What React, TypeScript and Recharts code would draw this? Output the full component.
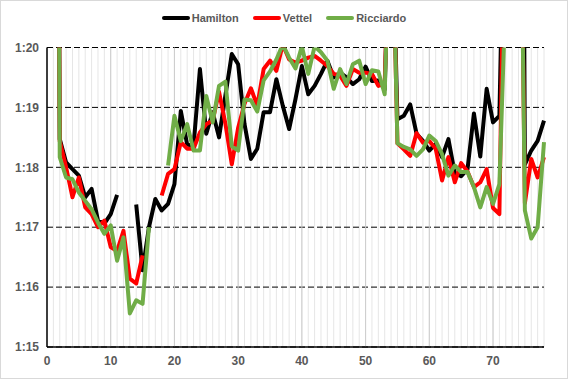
import { CartesianGrid, Legend, Line, LineChart, ReferenceLine, XAxis, YAxis } from "recharts";

const FONT = '"Liberation Sans", Arial, sans-serif';

// lap numbers (x categories)
const laps = [
	1, 2, 3, 4, 5, 6, 7, 8, 9, 10, 11, 12, 13, 14, 15, 16, 17, 18, 19, 20,
	21, 22, 23, 24, 25, 26, 27, 28, 29, 30, 31, 32, 33, 34, 35, 36, 37, 38, 39, 40,
	41, 42, 43, 44, 45, 46, 47, 48, 49, 50, 51, 52, 53, 54, 55, 56, 57, 58, 59, 60,
	61, 62, 63, 64, 65, 66, 67, 68, 69, 70, 71, 72, 73, 74, 75, 76, 77, 78,
];

// lap times in seconds (1:20 = 80)
const hamilton = [
	100, 78.47, 78.08, 77.97, 77.86, 77.5, 77.64, 77.11, 77.06, 77.22,
	77.54, null, null, 77.38, 76.28, 77.0, 77.47, 77.28, 77.39, 77.72,
	78.94, 78.38, 78.36, 79.64, 78.56, 78.92, 78.5, 79.2, 79.89, 79.72,
	78.72, 78.14, 78.31, 78.92, 78.92, 79.47, 79.03, 78.64, 79.14, 79.69,
	79.22, 79.36, 79.56, 79.78, 79.5, 79.58, 79.5, 79.39, 79.47, 79.68,
	79.44, 79.45, 79.3, 83, 78.8, 78.86, 79.05, 78.56, 78.44, 78.28,
	78.39, 78.17, 78.47, 77.9, 77.85, 77.97, 78.9, 78.18, 79.31, 78.75,
	78.86, 84, 100, 100, 78.05, 78.28, 78.44, 78.78,
];

const vettel = [
	100, 78.44, 78.0, 77.5, 77.83, 77.33, 77.22, 77.0, 77.11, 76.67,
	76.6, 76.94, 76.14, 76.06, 76.53, null, null, 77.53, 77.89, 77.97,
	78.42, 78.31, 78.31, 78.58, 78.72, 78.78, 79.26, 78.73, 78.05, 78.66,
	79.06, 79.32, 79.03, 79.64, 79.78, 79.61, 80.05, 79.8, 79.75, 79.78,
	79.83, 79.86, 79.78, 79.69, 79.56, 79.53, 79.36, 79.64, 79.58, 79.58,
	79.56, 79.36, 79.4, 83, 78.4, 78.3, 78.19, 78.57, 78.41, 78.44,
	78.31, 77.78, 78.17, 77.75, 78.07, 77.93, 77.67, 77.75, 77.97, 77.32,
	77.22, 84, 100, 86, 77.4, 78.14, 77.83, 78.17,
];

const ricciardo = [
	100, 78.17, 77.83, 77.8, 77.58, 77.44, 77.3, 77.08, 76.89, 77.03,
	76.44, 76.83, 75.56, 75.78, 75.72, 77.0, null, null, 78.03, 78.86,
	78.44, 78.72, 78.28, 78.28, 79.19, 78.75, 79.36, 79.43, 78.35, 78.28,
	79.13, 79.12, 78.93, 79.45, 79.6, 79.8, 80.05, 79.83, 79.65, 80.02,
	79.56, 80.02, 79.92, 79.78, 79.31, 79.64, 79.39, 79.72, 79.78, 79.39,
	79.62, 79.6, 79.22, 83, 78.4, 78.34, 78.3, 78.19, 78.3, 78.53,
	78.44, 78.22, 77.86, 78.03, 77.92, 77.92, 77.67, 77.33, 77.67, 77.39,
	77.72, 81, 90, 86, 77.28, 76.81, 77.0, 78.42,
];

const yTicks = [75, 76, 77, 78, 79, 80];
const xLabelTicks = [0, 10, 20, 30, 40, 50, 60, 70];
const gridTicks = [0, ...laps];

const series = [
	{ key: "hamilton", name: "Hamilton", color: "#000000" },
	{ key: "vettel", name: "Vettel", color: "#ff0000" },
	{ key: "ricciardo", name: "Ricciardo", color: "#70ad47" },
];

const data = laps.map((lap, i) => ({
	lap,
	hamilton: hamilton[i],
	vettel: vettel[i],
	ricciardo: ricciardo[i],
}));

function LapLegend() {
	return (
		<div
			style={{
				display: "flex",
				justifyContent: "center",
				alignItems: "center",
				gap: 14,
				height: 20,
				fontFamily: FONT,
				fontWeight: 700,
				fontSize: 11,
				color: "#595959",
			}}
		>
			{series.map((s) => (
				<span key={s.key} style={{ display: "flex", alignItems: "center" }}>
					<span style={{ width: 28, height: 4, background: s.color, borderRadius: 2, marginRight: 2 }} />
					{s.name}
				</span>
			))}
		</div>
	);
}

export default function App() {
	const tickStyle = { fill: "#595959", fontFamily: FONT, fontWeight: 700, fontSize: 12 };

	return (
		<div
			style={{
				position: "absolute",
				left: 0,
				top: 0,
				width: 568,
				height: 379,
				border: "1px solid #d9d9d9",
				boxSizing: "border-box",
				background: "#fff",
			}}
		>
			<LineChart
				width={566}
				height={377}
				data={data}
				margin={{ top: 26.5, right: 23, left: 0, bottom: 1 }}
				style={{ position: "absolute", left: 0, top: 0 }}
			>
				<Legend verticalAlign="top" content={<LapLegend />} wrapperStyle={{ left: 0, width: 566, top: 7 }} />
				<CartesianGrid horizontal={false} stroke="#e6e6e6" />
				<CartesianGrid vertical={false} stroke="#000" strokeDasharray="6 3" />
				{xLabelTicks.slice(1).map((t) => (
					<ReferenceLine key={t} x={t} stroke="#cccccc" />
				))}
				<XAxis
					dataKey="lap"
					type="number"
					domain={[0, 78]}
					ticks={gridTicks}
					interval={0}
					tickFormatter={(v) => (xLabelTicks.includes(v) ? String(v) : "")}
					tickLine={false}
					tickMargin={3}
					axisLine={{ stroke: "#000", strokeWidth: 1.5 }}
					tick={tickStyle}
					height={30}
				/>
				<YAxis
					type="number"
					domain={[75, 80]}
					ticks={yTicks}
					allowDataOverflow
					tickFormatter={(v) => `1:${v - 60}`}
					tickLine={false}
					axisLine={{ stroke: "#000", strokeWidth: 1.5 }}
					tick={tickStyle}
					width={46}
				/>
				{series.map((s) => (
					<Line
						key={s.key}
						type="linear"
						dataKey={s.key}
						name={s.name}
						stroke={s.color}
						strokeWidth={4}
						dot={false}
						activeDot={false}
						strokeLinejoin="round"
						isAnimationActive={false}
					/>
				))}
			</LineChart>
		</div>
	);
}
